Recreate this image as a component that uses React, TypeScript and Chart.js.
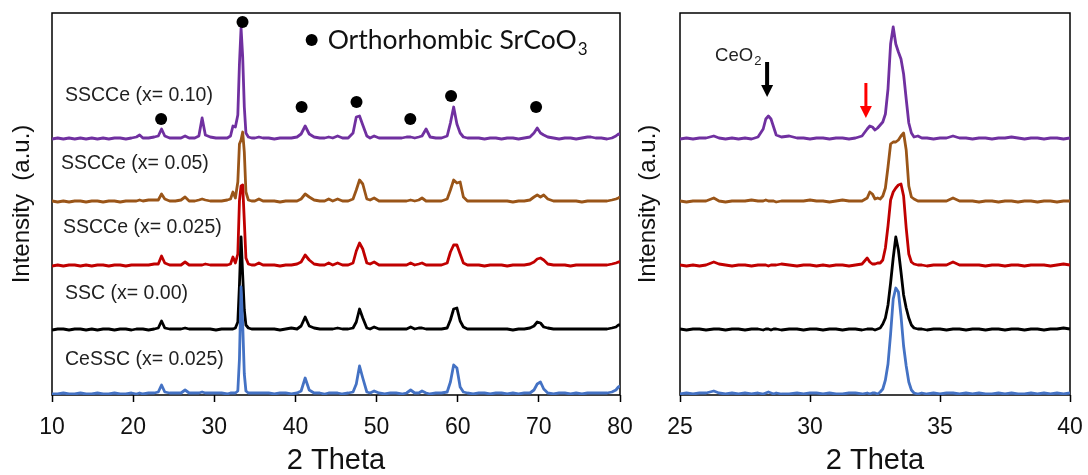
import React, { useEffect, useRef } from 'react';
import { Chart, registerables } from 'chart.js';

Chart.register(...registerables);

// ---------- DATA ----------
// Left panel: 2θ grid (10–80°)
const leftTheta = [
  10, 10.7, 11.4, 12.1, 12.8, 13.5, 14.2, 14.9, 15.6, 16.3,
  17, 17.7, 18.4, 19.1, 19.8, 20.4, 20.8, 21.2, 21.9, 22.6,
  23.1, 23.5, 23.9, 24.5, 25.2, 25.9, 26.4, 26.9, 27.6, 28.1,
  28.5, 28.9, 29.5, 30.2, 30.9, 31.6, 32.0, 32.3, 32.6, 32.9,
  33.1, 33.3, 33.5, 33.7, 33.9, 34.2, 34.6, 35.0, 35.5, 36.0,
  36.7, 37.4, 38.1, 38.8, 39.5, 40.2, 40.7, 41.2, 41.7, 42.3,
  43.0, 43.6, 44.1, 44.6, 45.2, 45.8, 46.5, 47.1, 47.5, 47.9,
  48.3, 48.8, 49.2, 49.7, 50.3, 51.0, 51.7, 52.4, 53.1, 53.7,
  54.2, 54.7, 55.2, 55.6, 56.1, 56.6, 57.3, 58.0, 58.7, 59.1,
  59.5, 59.9, 60.3, 60.7, 61.2, 61.9, 62.6, 63.3, 64.0, 64.7,
  65.4, 66.1, 66.8, 67.5, 68.2, 68.9, 69.4, 69.8, 70.2, 70.6,
  71.1, 71.8, 72.5, 73.2, 73.9, 74.6, 75.3, 76.0, 76.4, 77.0,
  77.7, 78.4, 79.0, 79.5, 79.8, 80,
];

// Intensities above each pattern's own baseline (a.u.)
const leftSSCCe010 = [
  0, 1, 0, 1, 0, 1, 0, 1, 0, 1,
  0, 1, 1, 0, 1, 2, 4, 1, 1, 2,
  3, 10, 3, 1, 1, 1, 3, 1, 1, 3,
  21, 4, 2, 1, 1, 1, 3, 13, 12, 24,
  75, 111, 82, 32, 6, 2, 1, 1, 2, 1,
  1, 0, 1, 1, 1, 2, 5, 13, 5, 2,
  1, 1, 2, 1, 3, 1, 1, 6, 22, 23,
  14, 3, 1, 3, 1, 1, 1, 1, 1, 2,
  2, 1, 2, 3, 10, 2, 1, 1, 3, 16,
  32, 15, 6, 2, 1, 1, 1, 0, 1, 1,
  0, 1, 1, 0, 1, 2, 6, 11, 6, 4,
  2, 1, 0, 1, 1, 0, 1, 2, 2, 1,
  1, 0, 1, 3, 5, 4,
];
const leftSSCCe005 = [
  1, 0, 1, 0, 1, 1, 0, 1, 1, 0,
  1, 1, 0, 1, 1, 1, 2, 1, 2, 2,
  2, 8, 3, 1, 1, 2, 5, 1, 1, 2,
  3, 2, 1, 1, 1, 2, 3, 10, 4, 20,
  58, 62, 70, 50, 10, 2, 1, 1, 3, 1,
  1, 1, 0, 1, 1, 1, 3, 8, 5, 2,
  1, 1, 3, 1, 3, 1, 1, 3, 12, 22,
  18, 3, 2, 4, 1, 1, 1, 1, 1, 1,
  2, 1, 2, 4, 1, 1, 1, 1, 3, 12,
  22, 19, 20, 5, 1, 1, 1, 1, 1, 1,
  1, 1, 0, 1, 1, 2, 5, 7, 5, 7,
  3, 1, 1, 1, 1, 1, 0, 1, 1, 1,
  1, 1, 2, 3, 4, 5,
];
const leftSSCCe0025 = [
  0, 1, 0, 1, 1, 0, 1, 0, 1, 1,
  0, 1, 1, 0, 1, 1, 1, 1, 1, 2,
  2, 10, 3, 1, 1, 1, 4, 1, 1, 1,
  1, 2, 1, 1, 1, 1, 2, 9, 3, 12,
  65, 80, 81, 45, 8, 2, 1, 1, 3, 1,
  1, 1, 0, 1, 1, 2, 4, 11, 6, 2,
  1, 1, 3, 1, 3, 1, 1, 3, 15, 23,
  17, 3, 2, 4, 1, 1, 1, 1, 1, 1,
  3, 1, 2, 3, 1, 1, 1, 1, 3, 14,
  21, 21, 12, 3, 1, 1, 1, 0, 1, 1,
  1, 0, 1, 1, 1, 2, 4, 7, 8, 6,
  2, 1, 1, 1, 0, 1, 1, 1, 1, 1,
  1, 1, 2, 3, 4, 4,
];
const leftSSC000 = [
  0, 1, 1, 0, 1, 1, 0, 1, 0, 1,
  1, 0, 1, 1, 0, 1, 1, 1, 0, 1,
  2, 9, 2, 1, 1, 1, 2, 1, 1, 1,
  1, 1, 1, 0, 1, 1, 1, 1, 2, 8,
  45, 93, 55, 20, 5, 2, 1, 1, 1, 1,
  1, 1, 0, 1, 2, 1, 4, 13, 4, 2,
  1, 1, 1, 1, 2, 1, 1, 2, 8, 21,
  12, 2, 1, 3, 1, 1, 1, 1, 1, 1,
  3, 1, 2, 2, 1, 1, 1, 1, 2, 10,
  21, 22, 9, 3, 1, 1, 1, 1, 1, 1,
  1, 1, 0, 1, 1, 2, 4, 8, 7, 3,
  2, 1, 1, 1, 1, 1, 1, 1, 1, 1,
  1, 1, 2, 3, 5, 5,
];
const leftCeSSC0025 = [
  0, 0, 1, 0, 0, 1, 0, 0, 1, 0,
  0, 1, 0, 0, 1, 0, 1, 0, 1, 1,
  2, 9, 2, 1, 1, 1, 4, 1, 1, 1,
  2, 1, 1, 1, 1, 0, 1, 1, 1, 3,
  35, 107, 70, 20, 3, 1, 1, 1, 1, 1,
  1, 0, 1, 1, 0, 1, 3, 16, 4, 1,
  1, 0, 1, 1, 1, 0, 1, 2, 10, 28,
  16, 2, 1, 3, 1, 0, 1, 1, 0, 1,
  4, 1, 1, 3, 1, 0, 1, 1, 2, 12,
  29, 26, 7, 2, 1, 0, 1, 1, 0, 1,
  1, 0, 1, 0, 1, 1, 4, 10, 12, 5,
  1, 0, 1, 1, 0, 1, 0, 1, 1, 1,
  1, 1, 2, 4, 7, 8,
];

// Right panel: 2θ grid (25–40°)
const rightTheta = [
  25, 25.25, 25.5, 25.75, 26.0, 26.3, 26.5, 26.75, 27.0, 27.25,
  27.5, 27.75, 28.0, 28.2, 28.3, 28.4, 28.5, 28.6, 28.7, 28.9,
  29.2, 29.5, 29.75, 30.0, 30.25, 30.5, 30.75, 31.0, 31.25, 31.5,
  31.75, 32.0, 32.2, 32.3, 32.4, 32.5, 32.6, 32.7, 32.8, 32.9,
  33.0, 33.1, 33.2, 33.3, 33.4, 33.5, 33.6, 33.7, 33.8, 33.9,
  34.0, 34.15, 34.3, 34.5, 34.75, 35.0, 35.25, 35.5, 35.75, 36.0,
  36.25, 36.5, 36.75, 37.0, 37.25, 37.5, 37.75, 38.0, 38.25, 38.5,
  38.75, 39.0, 39.25, 39.5, 39.75, 40.0,
];
const rightSSCCe010 = [
  0, 1, 0, 1, 1, 3, 1, 0, 1, 0,
  1, 0, 2, 10, 20, 23, 20, 12, 4, 2,
  3, 1, 1, 0, 1, 1, 0, 1, 1, 0,
  1, 3, 10, 13, 12, 9, 11, 14, 17, 25,
  50, 95, 112, 95, 87, 80, 65, 40, 16, 6,
  2, 3, 1, 1, 0, 1, 1, 3, 1, 1,
  0, 1, 1, 0, 1, 1, 2, 1, 0, 1,
  1, 0, 1, 1, 0, 1,
];
const rightSSCCe005 = [
  1, 0, 1, 1, 1, 4, 1, 0, 1, 1,
  1, 2, 1, 1, 2, 1, 1, 1, 0, 1,
  1, 1, 1, 2, 1, 1, 0, 1, 2, 1,
  1, 1, 4, 10, 8, 3, 4, 3, 6, 14,
  35, 58, 60, 60, 62, 66, 69, 52, 16, 5,
  3, 1, 1, 1, 1, 1, 1, 4, 1, 1,
  1, 0, 1, 1, 0, 1, 1, 0, 1, 1,
  0, 1, 1, 0, 1, 1,
];
const rightSSCCe0025 = [
  1, 0, 1, 0, 1, 4, 2, 1, 0, 1,
  1, 0, 1, 1, 1, 0, 1, 1, 1, 2,
  1, 0, 1, 1, 0, 1, 0, 1, 1, 0,
  1, 2, 8, 4, 2, 2, 3, 3, 6, 18,
  40, 66, 74, 78, 81, 82, 70, 38, 12, 4,
  2, 1, 1, 0, 1, 1, 1, 4, 1, 1,
  1, 1, 0, 1, 1, 0, 1, 1, 0, 1,
  1, 1, 0, 1, 2, 1,
];
const rightSSC000 = [
  1, 0, 1, 1, 0, 1, 1, 0, 1, 1,
  0, 1, 1, 0, 1, 1, 0, 1, 1, 0,
  1, 1, 0, 1, 1, 0, 1, 1, 0, 1,
  1, 0, 1, 1, 1, 0, 1, 2, 6, 12,
  25, 47, 72, 93, 80, 58, 35, 22, 12, 5,
  2, 1, 1, 0, 1, 1, 0, 1, 1, 0,
  1, 1, 0, 1, 1, 0, 1, 1, 0, 1,
  1, 0, 1, 1, 2, 1,
];
const rightCeSSC0025 = [
  0, 1, 0, 1, 1, 3, 1, 0, 1, 0,
  1, 0, 1, 0, 1, 2, 1, 0, 1, 0,
  0, 1, 0, 1, 1, 0, 1, 0, 0, 1,
  1, 0, 1, 0, 1, 1, 0, 2, 5, 14,
  30, 60, 95, 106, 102, 78, 48, 28, 12, 4,
  1, 0, 1, 0, 1, 0, 1, 1, 0, 1,
  0, 1, 0, 0, 1, 0, 1, 0, 0, 1,
  0, 1, 0, 1, 0, 1,
];

// Series (top to bottom) with vertical stacking offsets (a.u.)
const seriesNames = ['SSCCe (x= 0.10)', 'SSCCe (x= 0.05)', 'SSCCe (x= 0.025)', 'SSC (x= 0.00)', 'CeSSC (x= 0.025)'];
const seriesColors = ['#7030A0', '#9A5518', '#C00000', '#000000', '#4472C4'];
const stackOffsets = [256, 193, 129, 65, 1];

// Sample label anchors (left panel)
const labelTheta = [11.6, 11.1, 11.35, 11.6, 11.6];
const labelIntensity = [299, 231, 167, 101, 35];

// Orthorhombic SrCoO3 reflection markers (left panel)
const markerTheta = [33.48, 23.45, 40.76, 47.53, 54.16, 59.18, 69.66];
const markerIntensity = [373, 276, 288, 293, 276, 299, 288];

// Legend (left panel)
const legendDotTheta = 42.0;
const legendDotIntensity = 355;
const legendText = 'Orthorhombic SrCoO';
const legendSub = '3';

// Right panel arrows
const arrowTheta = [28.35, 32.15];
const arrowTop = [333, 312];
const arrowTip = [298, 277];
const arrowColors = ['#000000', '#FF0000'];
const ceoText = 'CeO';
const ceoSub = '2';
const ceoTheta = 26.35;
const ceoIntensity = 341;

const FONT = "'Liberation Sans', Arial, sans-serif";

function buildLineSets(theta: number[], series: number[][]) {
  return series.map((vals, k) => ({
    type: 'line',
    label: seriesNames[k],
    data: theta.map((t, i) => ({ x: t, y: vals[i] + stackOffsets[k] })),
    borderColor: seriesColors[k],
    backgroundColor: seriesColors[k],
    borderWidth: 2.8,
    pointRadius: 0,
    tension: 0,
    fill: false,
    borderJoinStyle: 'round',
    order: 5 - k,
  }));
}

const framePlugin = {
  id: 'frame',
  beforeDatasetsDraw(chart: any) {
    const { ctx, chartArea } = chart;
    const { left, top, right, bottom } = chartArea;
    ctx.save();
    ctx.strokeStyle = '#000';
    ctx.lineWidth = 1.5;
    ctx.strokeRect(left, top, right - left, bottom - top);
    ctx.restore();
  },
};

function makeOptions(min: number, max: number, step: number, yAxisWidth: number, padRight: number) {
  return {
    animation: false,
    responsive: false,
    maintainAspectRatio: false,
    layout: { padding: { top: 13, right: padRight, left: 0, bottom: 0 } },
    plugins: { legend: { display: false }, tooltip: { enabled: false } },
    scales: {
      x: {
        type: 'linear',
        min,
        max,
        ticks: { stepSize: step, font: { size: 23, family: FONT }, color: '#111', padding: 12, maxRotation: 0, autoSkip: false },
        grid: { display: true, drawOnChartArea: false, drawTicks: true, tickLength: 7, tickWidth: 1.5, tickColor: '#000' },
        border: { display: false },
        title: { display: true, text: '2 Theta', font: { size: 29, family: FONT, lineHeight: 1 }, color: '#111', padding: { top: 0, bottom: 0 } },
        afterFit: (s: any) => { s.height = 80; },
      },
      y: {
        type: 'linear',
        min: 0,
        max: 382,
        ticks: { display: false },
        grid: { display: false },
        border: { display: false },
        title: { display: true, text: 'Intensity  (a.u.)', font: { size: 24, family: FONT }, color: '#111', padding: { top: 8, bottom: 0 } },
        afterFit: (s: any) => { s.width = yAxisWidth; },
      },
    },
  };
}

function drawSubText(ctx: any, main: string, sub: string, x: number, y: number, size: number, subSize: number, family: string, color: string) {
  ctx.save();
  ctx.fillStyle = color;
  ctx.textBaseline = 'alphabetic';
  ctx.textAlign = 'left';
  ctx.font = `${size}px ${family}`;
  ctx.fillText(main, x, y);
  const w = ctx.measureText(main).width;
  ctx.font = `${subSize}px ${family}`;
  ctx.fillText(sub, x + w + 1, y + size * 0.22);
  ctx.restore();
}

const leftDecor = {
  id: 'leftDecor',
  afterDatasetsDraw(chart: any) {
    const { ctx, scales } = chart;
    const xs = scales.x, ys = scales.y;
    ctx.save();
    ctx.fillStyle = '#1f1f1f';
    ctx.font = `19.5px ${FONT}`;
    ctx.textBaseline = 'middle';
    ctx.textAlign = 'left';
    seriesNames.forEach((name, k) => {
      ctx.fillText(name, xs.getPixelForValue(labelTheta[k]), ys.getPixelForValue(labelIntensity[k]));
    });
    // legend
    const lx = xs.getPixelForValue(legendDotTheta);
    const ly = ys.getPixelForValue(legendDotIntensity);
    ctx.fillStyle = '#000';
    ctx.beginPath();
    ctx.arc(lx, ly, 6, 0, Math.PI * 2);
    ctx.fill();
    ctx.restore();
    drawSubText(ctx, legendText, legendSub, lx + 16, ly + 9, 26.5, 17, "Lato, 'Open Sans', sans-serif", '#111');
  },
};

const rightDecor = {
  id: 'rightDecor',
  afterDatasetsDraw(chart: any) {
    const { ctx, scales } = chart;
    const xs = scales.x, ys = scales.y;
    arrowTheta.forEach((t, k) => {
      const x = xs.getPixelForValue(t);
      const y0 = ys.getPixelForValue(arrowTop[k]);
      const y1 = ys.getPixelForValue(arrowTip[k]);
      const head = 12;
      ctx.save();
      ctx.strokeStyle = arrowColors[k];
      ctx.fillStyle = arrowColors[k];
      ctx.lineWidth = k === 0 ? 4 : 3;
      ctx.beginPath();
      ctx.moveTo(x, y0);
      ctx.lineTo(x, y1 - head + 1);
      ctx.stroke();
      ctx.beginPath();
      ctx.moveTo(x - 6, y1 - head);
      ctx.lineTo(x + 6, y1 - head);
      ctx.lineTo(x, y1);
      ctx.closePath();
      ctx.fill();
      ctx.restore();
    });
    const cx = xs.getPixelForValue(ceoTheta);
    const cy = ys.getPixelForValue(ceoIntensity);
    drawSubText(ctx, ceoText, ceoSub, cx, cy + 7, 18.5, 13, FONT, '#222');
  },
};

function useChart(ref: any, config: () => any) {
  useEffect(() => {
    if (!ref.current) return;
    const chart = new Chart(ref.current, config());
    return () => chart.destroy();
  }, []);
}

export default function App() {
  const leftRef = useRef<HTMLCanvasElement>(null);
  const rightRef = useRef<HTMLCanvasElement>(null);

  useChart(leftRef, () => ({
    type: 'line',
    data: {
      datasets: [
        {
          type: 'scatter',
          label: 'Orthorhombic SrCoO3',
          data: markerTheta.map((t, i) => ({ x: t, y: markerIntensity[i] })),
          pointRadius: 6,
          pointBackgroundColor: '#000',
          pointBorderWidth: 0,
          showLine: false,
          order: 0,
        },
        ...buildLineSets(leftTheta, [leftSSCCe010, leftSSCCe005, leftSSCCe0025, leftSSC000, leftCeSSC0025]),
      ],
    },
    options: makeOptions(10, 80, 10, 52, 30),
    plugins: [framePlugin, leftDecor],
  }));

  useChart(rightRef, () => ({
    type: 'line',
    data: {
      datasets: buildLineSets(rightTheta, [rightSSCCe010, rightSSCCe005, rightSSCCe0025, rightSSC000, rightCeSSC0025]),
    },
    options: makeOptions(25, 40, 5, 54, 30),
    plugins: [framePlugin, rightDecor],
  }));

  return (
    <div style={{ position: 'absolute', left: 0, top: 0, width: 1088, height: 475, background: '#fff', overflow: 'hidden' }}>
      <canvas ref={leftRef} width={650} height={475} style={{ position: 'absolute', left: 0, top: 0 }} />
      <canvas ref={rightRef} width={474} height={475} style={{ position: 'absolute', left: 626, top: 0 }} />
    </div>
  );
}
